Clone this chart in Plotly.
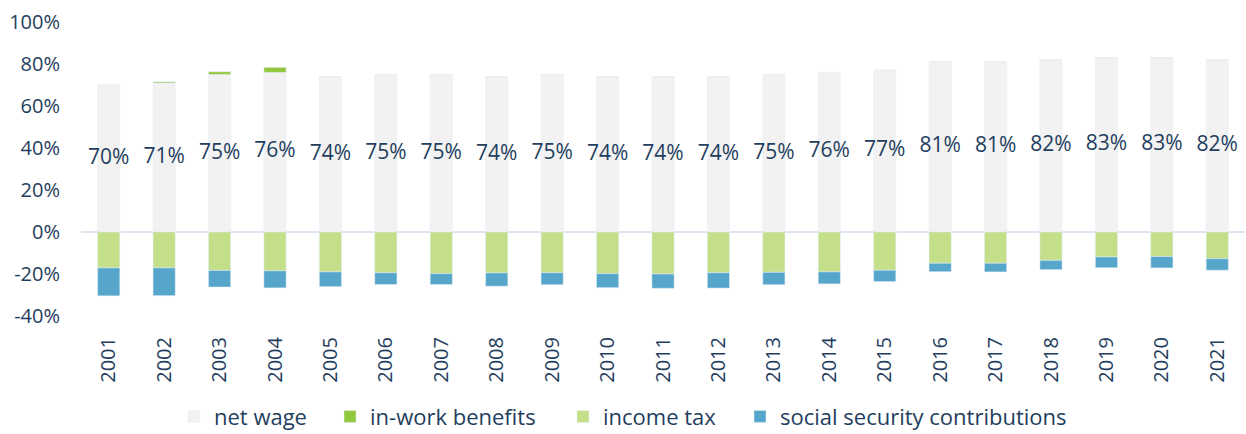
import plotly.graph_objects as go

years = [str(y) for y in range(2001, 2022)]

# shares of total labour cost, in percent
net_wage = [70, 71, 75, 76, 74, 75, 75, 74, 75, 74, 74, 74, 75, 76, 77, 81, 81, 82, 83, 83, 82]
in_work_benefits = [0, 0.5, 1.3, 2.4, 0, 0, 0, 0, 0, 0, 0, 0, 0, 0, 0, 0, 0, 0, 0, 0, 0]
income_tax = [-17.1, -17.1, -18.3, -18.5, -19.0, -19.4, -19.8, -19.5, -19.4, -19.8, -20.0,
              -19.4, -19.2, -19.0, -18.2, -14.9, -14.9, -13.5, -11.9, -11.7, -12.7]
social_security = [-13.3, -13.2, -7.9, -8.1, -7.0, -5.6, -5.2, -6.3, -5.7, -6.7, -6.8,
                   -7.3, -5.9, -5.7, -5.4, -4.0, -4.1, -4.4, -5.1, -5.4, -5.5]

y_ticks = [-40, -20, 0, 20, 40, 60, 80, 100]
y_tick_labels = [f"{v}%" for v in y_ticks]

NAVY = "#1F3E5E"
FONT = "Open Sans"

series = [
    ("net wage", net_wage, "#F2F2F2", "legend"),
    ("in-work benefits", in_work_benefits, "#92C83E", "legend2"),
    ("income tax", income_tax, "#C3DF8A", "legend3"),
    ("social security contributions", social_security, "#56A6CB", "legend4"),
]

fig = go.Figure()
for name, values, color, legend_id in series:
    fig.add_bar(x=years, y=values, name=name, marker_color=color, legend=legend_id)

# net wage value labels, centred inside each bar
fig.add_scatter(
    x=years, y=[v / 2 for v in net_wage], mode="text",
    text=[f"{v}%" for v in net_wage],
    textfont=dict(family=FONT, size=21, color=NAVY),
    showlegend=False, hoverinfo="skip",
)

# one single-entry legend per series, spread along the bottom edge
legend_left_px = [174, 330, 563, 740]
legend_style = dict(orientation="h", xref="container", yref="container",
                    xanchor="left", y=0.04, yanchor="middle",
                    font=dict(size=22), itemwidth=30, bgcolor="rgba(0,0,0,0)")

fig.update_layout(
    width=1246, height=434,
    margin=dict(l=81, r=1, t=22, b=118),
    barmode="relative", bargap=0.6,
    plot_bgcolor="white", paper_bgcolor="white",
    font=dict(family=FONT, size=20, color=NAVY),
    legend=dict(x=legend_left_px[0] / 1246, **legend_style),
    legend2=dict(x=legend_left_px[1] / 1246, **legend_style),
    legend3=dict(x=legend_left_px[2] / 1246, **legend_style),
    legend4=dict(x=legend_left_px[3] / 1246, **legend_style),
)
fig.update_xaxes(range=[-0.5, len(years) - 0.5], tickangle=-90, showgrid=False,
                 showline=False, ticks="", automargin=False, ticklabelstandoff=16,
                 tickfont=dict(size=20, color=NAVY))
fig.update_yaxes(range=[-40, 100], tickvals=y_ticks, ticktext=y_tick_labels,
                 showgrid=False, automargin=False, ticklabelstandoff=20,
                 zeroline=True, zerolinecolor="#DCE6F1", zerolinewidth=2,
                 tickfont=dict(size=20, color=NAVY), ticks="")

fig.write_html("out.html")
